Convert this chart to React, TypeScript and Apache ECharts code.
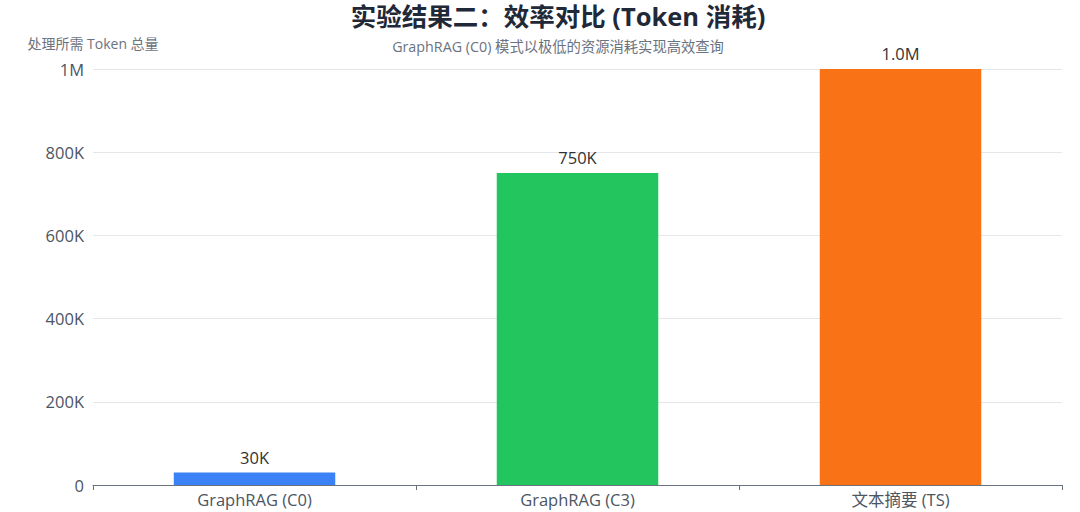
import { useEffect, useRef } from "react";
import * as echarts from "echarts";

const categories = ["GraphRAG (C0)", "GraphRAG (C3)", "文本摘要 (TS)"];
const tokenTotals = [30000, 750000, 1000000];
const barColors = ["#3b82f6", "#22c55e", "#f97316"];

const FONT = "'Open Sans', 'Noto Sans CJK SC', sans-serif";

function fmtAxis(v: number) {
  if (v === 0) return "0";
  if (v >= 1e6) return `${v / 1e6}M`;
  return `${v / 1000}K`;
}

function fmtLabel(v: number) {
  if (v >= 1e6) return `${(v / 1e6).toFixed(1)}M`;
  return `${Math.round(v / 1000)}K`;
}

export default function App() {
  const ref = useRef<HTMLDivElement | null>(null);

  useEffect(() => {
    const el = ref.current!;
    const chart = echarts.init(el, undefined, { renderer: "svg" });
    chart.setOption({
      animation: false,
      textStyle: { fontFamily: FONT },
      title: {
        text: "实验结果二：效率对比 (Token 消耗)",
        subtext: "GraphRAG (C0) 模式以极低的资源消耗实现高效查询",
        left: 558,
        textAlign: "center",
        top: 3,
        padding: 0,
        itemGap: 11,
        textStyle: { fontSize: 25.5, fontWeight: "bold", color: "#1f2937", fontFamily: FONT },
        subtextStyle: { fontSize: 14.3, color: "#6b7280", fontFamily: FONT },
      },
      grid: { left: 93, right: 18, top: 69, bottom: 27 },
      xAxis: {
        type: "category",
        data: categories,
        axisLine: { lineStyle: { color: "#6b7280" } },
        axisTick: { show: true, lineStyle: { color: "#6b7280" } },
        axisLabel: { fontSize: 16.5, color: "#4b5563", margin: 6 },
      },
      yAxis: {
        type: "value",
        name: "处理所需 Token 总量",
        nameLocation: "end",
        nameGap: 19,
        nameTextStyle: { fontSize: 14, color: "#6b7280", align: "center" },
        min: 0,
        max: 1000000,
        interval: 200000,
        axisLabel: { fontSize: 16.5, color: "#4b5563", formatter: fmtAxis, margin: 9 },
        splitLine: { lineStyle: { color: "#e5e7eb" } },
      },
      series: [
        {
          type: "bar",
          barWidth: "50%",
          data: tokenTotals.map((v, i) => ({ value: v, itemStyle: { color: barColors[i] } })),
          label: {
            show: true,
            position: "top",
            distance: 7,
            fontSize: 16.5,
            color: "#333333",
            formatter: (p: any) => fmtLabel(p.value),
          },
        },
      ],
    });
    return () => chart.dispose();
  }, []);

  return <div ref={ref} style={{ position: "absolute", left: 0, top: 0, width: 1080, height: 512 }} />;
}
